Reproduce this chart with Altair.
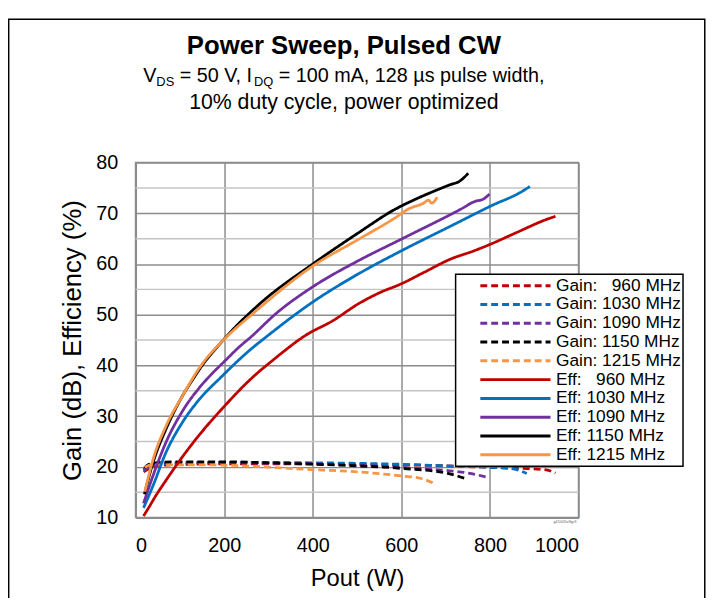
import altair as alt
import pandas as pd

FONT = "Liberation Sans"

# ---------------- data ----------------
series_gain = ["Gain: \u2007960 MHz", "Gain: 1030 MHz", "Gain: 1090 MHz", "Gain: 1150 MHz", "Gain: 1215 MHz"]
series_eff = ["Eff: \u2007960 MHz", "Eff: 1030 MHz", "Eff: 1090 MHz", "Eff: 1150 MHz", "Eff: 1215 MHz"]
colors = ["#C00000", "#0070C0", "#7030A0", "#000000", "#F79646"]

# Efficiency (%)
eff_960_p = [18, 30, 45, 70, 106, 144, 200, 255, 318, 385, 445, 504, 550, 600, 650, 712, 764, 801, 860, 928, 948]
eff_960_v = [10.3, 12.0, 14.2, 17.5, 22.0, 26.3, 31.9, 36.9, 41.6, 46.0, 48.8, 52.2, 54.3, 56.1, 58.3, 61.0, 62.6, 63.9, 66.2, 68.8, 69.4]

eff_1030_p = [18, 40, 69, 106, 144, 192, 259, 296, 400, 504, 600, 712, 801, 876, 890]
eff_1030_v = [11.9, 16.4, 22.9, 28.8, 33.3, 37.6, 43.1, 45.7, 52.5, 58.1, 62.6, 67.5, 71.4, 74.5, 75.3]

eff_1090_p = [18, 40, 69, 106, 144, 162, 203, 236, 259, 318, 400, 504, 600, 734, 768, 783, 799]
eff_1090_v = [12.8, 18.4, 24.9, 31.0, 35.6, 37.4, 41.0, 43.8, 45.5, 50.3, 55.5, 60.7, 64.9, 70.8, 72.4, 72.7, 73.8]

eff_1150_p = [20, 40, 69, 106, 132, 144, 199, 281, 400, 504, 586, 630, 675, 712, 731, 751]
eff_1150_v = [14.6, 21.0, 27.5, 34.0, 37.6, 39.2, 45.1, 52.2, 60.0, 66.2, 70.8, 72.7, 74.4, 75.7, 76.3, 77.9]

eff_1215_p = [21, 40, 69, 106, 144, 203, 266, 400, 504, 586, 615, 650, 662, 668, 675, 681]
eff_1215_v = [15.1, 21.6, 28.1, 34.0, 39.5, 45.4, 50.3, 59.6, 64.9, 69.1, 70.8, 72.0, 72.6, 72.0, 72.4, 73.2]

# Gain (dB)
gain_960_p = [18, 30, 60, 120, 200, 300, 400, 500, 600, 700, 800, 870, 927, 948]
gain_960_v = [19.0, 19.6, 20.3, 20.5, 20.6, 20.6, 20.6, 20.5, 20.4, 20.2, 19.9, 19.7, 19.4, 18.8]

gain_1030_p = [18, 30, 60, 120, 200, 300, 400, 500, 600, 700, 800, 853, 883]
gain_1030_v = [19.3, 20.0, 20.6, 20.8, 20.9, 20.9, 20.8, 20.7, 20.5, 20.2, 19.9, 19.6, 18.7]

gain_1090_p = [18, 30, 60, 150, 300, 450, 600, 700, 742, 797]
gain_1090_v = [19.5, 20.1, 20.7, 20.9, 20.7, 20.5, 19.9, 19.3, 18.9, 17.9]

gain_1150_p = [20, 30, 60, 100, 200, 300, 407, 500, 600, 705, 745]
gain_1150_v = [19.8, 20.5, 20.9, 21.0, 21.0, 20.8, 20.5, 20.2, 19.7, 18.7, 17.7]

gain_1215_p = [21, 30, 60, 150, 329, 407, 441, 519, 600, 645, 679]
gain_1215_v = [19.9, 20.3, 20.4, 20.4, 19.8, 19.4, 19.3, 18.9, 18.2, 17.7, 16.5]

x_ticks = [0, 200, 400, 600, 800, 1000]
y_ticks = [10, 20, 30, 40, 50, 60, 70, 80]
y_minor = [15, 25, 35, 45, 55, 65, 75]

title_text = "Power Sweep, Pulsed CW"
sub_line1 = [("V", "main"), ("DS", "sub"), (" = 50 V, I", "main"), ("DQ", "sub"),
             (" = 100 mA, 128 \u00b5s pulse width,", "main")]
sub_line2 = "10% duty cycle, power optimized"
watermark = "g15005effgr3"

# ---------------- build table ----------------
gain_p = [gain_960_p, gain_1030_p, gain_1090_p, gain_1150_p, gain_1215_p]
gain_v = [gain_960_v, gain_1030_v, gain_1090_v, gain_1150_v, gain_1215_v]
eff_p = [eff_960_p, eff_1030_p, eff_1090_p, eff_1150_p, eff_1215_p]
eff_v = [eff_960_v, eff_1030_v, eff_1090_v, eff_1150_v, eff_1215_v]

rows = []
for name, ps, vs in zip(series_gain + series_eff, gain_p + eff_p, gain_v + eff_v):
    for p, v in zip(ps, vs):
        rows.append({"series": name, "P": p, "V": v})
df = pd.DataFrame(rows)

domain = series_gain + series_eff
color_range = colors + colors
dash_range = [[7, 4]] * 5 + [[1, 0]] * 5

W, H = 448, 359
GRID = "#8c8c8c"
MINOR = "#c4c4c4"

xscale = alt.Scale(domain=[0, 1000], nice=False)
yscale = alt.Scale(domain=[10, 80], nice=False)

minor = alt.Chart(pd.DataFrame({"m": y_minor})).mark_rule(color=MINOR, strokeWidth=1.5).encode(
    y=alt.Y("m:Q", scale=yscale)
)

lines = alt.Chart(df).mark_line(strokeWidth=2.8, interpolate="monotone").encode(
    x=alt.X("P:Q", scale=xscale,
            axis=alt.Axis(values=x_ticks, title="Pout (W)", grid=True, format="d",
                          titleFontSize=24)),
    y=alt.Y("V:Q", scale=yscale,
            axis=alt.Axis(values=y_ticks, title="Gain (dB), Efficiency (%)", grid=True, format="d",
                          titleFontSize=26)),
    color=alt.Color("series:N", scale=alt.Scale(domain=domain, range=color_range),
                    legend=alt.Legend(title=None)),
    strokeDash=alt.StrokeDash("series:N", scale=alt.Scale(domain=domain, range=dash_range),
                              legend=alt.Legend(title=None)),
)

# ---- header texts (subscript built from segments) ----
AW = {' ': 278, '=': 584, ',': 278, 'V': 667, 'I': 278, 'D': 722, 'S': 667, 'Q': 778,
      'm': 833, 'A': 667, '\u00b5': 576, 's': 500, 'p': 556, 'u': 556, 'l': 222, 'e': 556,
      'w': 722, 'i': 222, 'd': 556, 't': 278, 'h': 556}
def tw(s, size):
    return sum(AW.get(c, 556) for c in s) * size / 1000.0

MAIN1, SUB, MAIN2 = 20, 13, 21.5
CX = 210.7
Y_TITLE, Y_L1, Y_L2 = -110, -82, -54

def seg_size(kind):
    return MAIN1 if kind == "main" else SUB

total = sum(tw(t, seg_size(k)) for t, k in sub_line1)
xpos = CX - total / 2
header = []
for t, k in sub_line1:
    size = seg_size(k)
    lead = len(t) - len(t.lstrip(" "))
    x0 = xpos + tw(" " * lead, size)
    header.append(alt.Chart(pd.DataFrame({"t": [t.strip()]})).mark_text(
        align="left", baseline="alphabetic", font=FONT, fontSize=size, color="black"
    ).encode(text="t:N", x=alt.value(x0), y=alt.value(Y_L1 + (0 if k == "main" else 5))))
    xpos += tw(t, size)

title_mark = alt.Chart(pd.DataFrame({"t": [title_text]})).mark_text(
    align="center", baseline="alphabetic", font=FONT, fontSize=26, fontWeight="bold", color="black"
).encode(text="t:N", x=alt.value(CX), y=alt.value(Y_TITLE))

line2_mark = alt.Chart(pd.DataFrame({"t": [sub_line2]})).mark_text(
    align="center", baseline="alphabetic", font=FONT, fontSize=MAIN2, color="black"
).encode(text="t:N", x=alt.value(CX), y=alt.value(Y_L2))

wm = alt.Chart(pd.DataFrame({"t": [watermark]})).mark_text(
    align="right", baseline="top", font=FONT, fontSize=4, color="#666666"
).encode(text="t:N", x=alt.value(W - 2), y=alt.value(H + 2))

frame = alt.Chart(pd.DataFrame({"a": [0]})).mark_rect(
    filled=False, stroke="black", strokeWidth=1.5
).encode(x=alt.value(-128.3), x2=alt.value(575.7), y=alt.value(-145), y2=alt.value(H + 120))

chart = alt.layer(frame, minor, lines, title_mark, *header, line2_mark, wm).properties(
    width=W, height=H,
    autosize=alt.AutoSizeParams(type="none"),
    padding={"left": 129, "top": 153, "right": 134, "bottom": 78},
).configure_view(
    stroke=GRID, strokeWidth=1.5
).configure_axis(
    gridColor=GRID, gridWidth=1.5, domainColor=GRID, domainWidth=2,
    ticks=False, tickSize=0,
    labelFont=FONT, labelFontSize=20, labelColor="black",
    titleFont=FONT, titleFontWeight="normal", titleColor="black",
).configure_axisX(
    labelPadding=18, titlePadding=12,
).configure_axisY(
    labelPadding=18, titlePadding=10,
).configure_legend(
    orient="none", legendX=323.7, legendY=113,
    symbolType="stroke", symbolSize=5041, symbolStrokeWidth=3,
    clipHeight=19, rowPadding=0, padding=2,
    symbolOffset=21.5, labelOffset=4,
    strokeColor="black", strokeWidth=1.5, fillColor="white", cornerRadius=0,
    labelFont=FONT, labelFontSize=17.5, labelColor="black", labelLimit=300,
)

chart.save("out.html", embed_options={"renderer": "svg", "actions": False})
